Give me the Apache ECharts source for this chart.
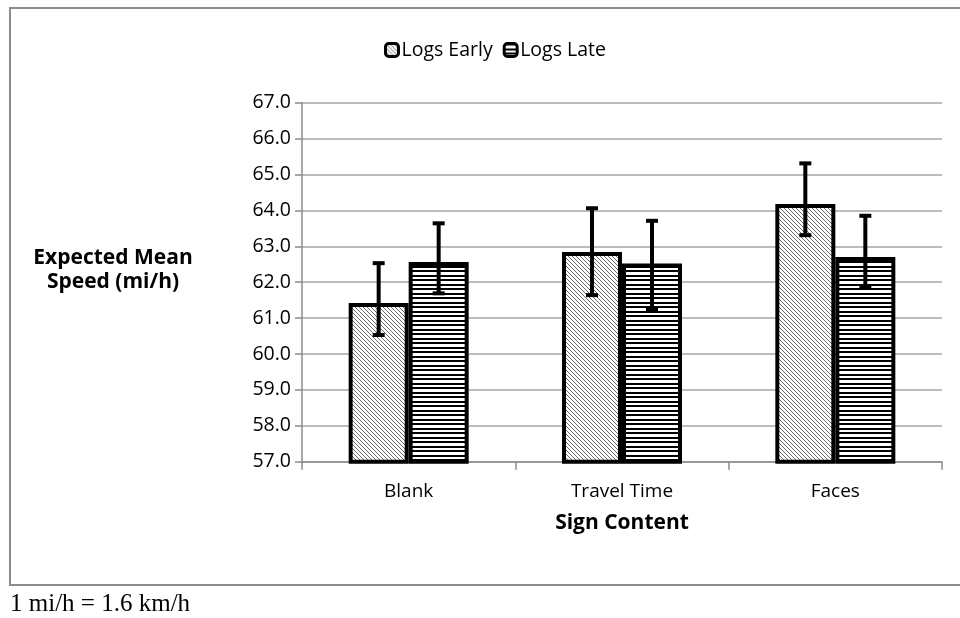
<!DOCTYPE html>
<html>
<head>
<meta charset="utf-8">
<title>Expected Mean Speed by Sign Content</title>
<script src="https://cdn.jsdelivr.net/npm/echarts@6/dist/echarts.min.js"></script>
<style>
  html, body { margin: 0; padding: 0; background: #ffffff; }
  #chart { width: 960px; height: 618px; }
</style>
</head>
<body>
<div id="chart"></div>
<script>
// Sign content categories on the x axis
const categories = ['Blank', 'Travel Time', 'Faces'];

// Expected mean speed (mi/h) for each log group
const logsEarly = [61.42, 62.84, 64.18];
const logsLate = [62.56, 62.52, 62.70];

// Confidence interval bounds (low, high) for each bar
const logsEarlyLow = [60.53, 61.64, 63.31];
const logsEarlyHigh = [62.53, 64.06, 65.31];
const logsLateLow = [61.69, 61.25, 61.86];
const logsLateHigh = [63.64, 63.71, 63.85];

// Y axis range and step
const yMin = 57;
const yMax = 67;
const yStep = 1;

const BAR_W = 60;
const FONT = '"Open Sans", "Liberation Sans", sans-serif';

// Fill patterns: fine diagonal hatch and horizontal stripes
function diagonalPattern() {
  const c = document.createElement('canvas');
  c.width = 4; c.height = 4;
  const g = c.getContext('2d');
  g.fillStyle = '#ffffff';
  g.fillRect(0, 0, 4, 4);
  g.fillStyle = '#6e6e6e';
  for (let i = 0; i < 4; i++) g.fillRect(i, i, 1, 1);
  return c;
}
function stripePattern() {
  const c = document.createElement('canvas');
  c.width = 4; c.height = 9;
  const g = c.getContext('2d');
  g.fillStyle = '#ffffff';
  g.fillRect(0, 0, 4, 9);
  g.fillStyle = '#000000';
  g.fillRect(0, 0, 4, 2);
  g.fillRect(0, 5, 4, 2);
  return c;
}
const earlyFill = { image: diagonalPattern(), repeat: 'repeat' };
const lateFill = { image: stripePattern(), repeat: 'repeat' };

function errorData(low, high) {
  return categories.map((_, i) => [i, low[i], high[i]]);
}

// Error bar with caps, shifted to the centre of its bar within the group
function errorRenderer(offset) {
  return function (params, api) {
    const idx = api.value(0);
    const lo = api.coord([idx, api.value(1)]);
    const hi = api.coord([idx, api.value(2)]);
    const x = lo[0] + offset;
    const cap = 6;
    const style = { stroke: '#000000', lineWidth: 4 };
    return {
      type: 'group',
      children: [
        { type: 'line', shape: { x1: x, y1: lo[1], x2: x, y2: hi[1] }, style: style },
        { type: 'line', shape: { x1: x - cap, y1: lo[1], x2: x + cap, y2: lo[1] }, style: style },
        { type: 'line', shape: { x1: x - cap, y1: hi[1], x2: x + cap, y2: hi[1] }, style: style }
      ]
    };
  };
}

const chart = echarts.init(document.getElementById('chart'), null, { renderer: 'canvas' });

chart.setOption({
  backgroundColor: '#ffffff',
  animation: false,
  textStyle: { fontFamily: FONT },
  graphic: [
    {
      type: 'rect',
      shape: { x: 10, y: 8, width: 960, height: 577 },
      style: { fill: 'none', stroke: '#8c8c8c', lineWidth: 2 },
      silent: true
    },
    {
      type: 'text',
      x: 113, y: 270,
      style: {
        text: 'Expected Mean\nSpeed (mi/h)',
        align: 'center',
        verticalAlign: 'middle',
        fontFamily: FONT, fontWeight: 'bold', fontSize: 21, lineHeight: 24, fill: '#000000'
      },
      silent: true
    },
    {
      type: 'text',
      x: 10, y: 604,
      style: {
        text: '1 mi/h = 1.6 km/h',
        verticalAlign: 'middle',
        fontFamily: '"Liberation Serif", "Times New Roman", serif',
        fontSize: 25, fill: '#000000'
      },
      silent: true
    }
  ],
  legend: {
    top: 35,
    left: 379,
    itemWidth: 13,
    itemHeight: 13,
    itemGap: 10,
    icon: 'roundRect',
    textStyle: { fontFamily: FONT, fontSize: 19.5, color: '#000000', padding: [0, 0, 0, -2] },
    data: [
      { name: 'Logs Early', itemStyle: { color: earlyFill, borderColor: '#000000', borderWidth: 3 } },
      { name: 'Logs Late', itemStyle: { color: lateFill, borderColor: '#000000', borderWidth: 3 } }
    ]
  },
  grid: { left: 302, right: 18, top: 102.7, bottom: 156.3 },
  xAxis: {
    type: 'category',
    data: categories,
    name: 'Sign Content',
    nameLocation: 'middle',
    nameGap: 51,
    nameTextStyle: { fontFamily: FONT, fontWeight: 'bold', fontSize: 21, color: '#000000' },
    axisLine: { show: true, lineStyle: { color: '#8c8c8c', width: 1.5 } },
    axisTick: { show: true, length: 8, lineStyle: { color: '#8c8c8c', width: 1.5 } },
    axisLabel: { margin: 20, fontFamily: FONT, fontSize: 19, color: '#000000' },
    splitLine: { show: false }
  },
  yAxis: {
    type: 'value',
    min: yMin,
    max: yMax,
    interval: yStep,
    axisLine: { show: true, lineStyle: { color: '#8c8c8c', width: 1.5 } },
    axisTick: { show: true, length: 7, lineStyle: { color: '#8c8c8c', width: 1.5 } },
    axisLabel: {
      margin: 11,
      fontFamily: FONT, fontSize: 19.5, color: '#000000',
      formatter: v => v.toFixed(1)
    },
    splitLine: { show: true, lineStyle: { color: '#a6a6a6', width: 1.5 } }
  },
  series: [
    {
      name: 'Logs Early',
      type: 'bar',
      data: logsEarly,
      barWidth: BAR_W,
      barGap: '0%',
      itemStyle: { color: earlyFill, borderColor: '#000000', borderWidth: 4 },
      z: 2
    },
    {
      name: 'Logs Late',
      type: 'bar',
      data: logsLate,
      barWidth: BAR_W,
      barGap: '0%',
      itemStyle: { color: lateFill, borderColor: '#000000', borderWidth: 4 },
      z: 2
    },
    {
      type: 'custom',
      name: 'Logs Early CI',
      data: errorData(logsEarlyLow, logsEarlyHigh),
      encode: { x: 0, y: [1, 2] },
      renderItem: errorRenderer(-BAR_W / 2),
      z: 5,
      silent: true
    },
    {
      type: 'custom',
      name: 'Logs Late CI',
      data: errorData(logsLateLow, logsLateHigh),
      encode: { x: 0, y: [1, 2] },
      renderItem: errorRenderer(BAR_W / 2),
      z: 5,
      silent: true
    }
  ]
});
</script>
</body>
</html>
